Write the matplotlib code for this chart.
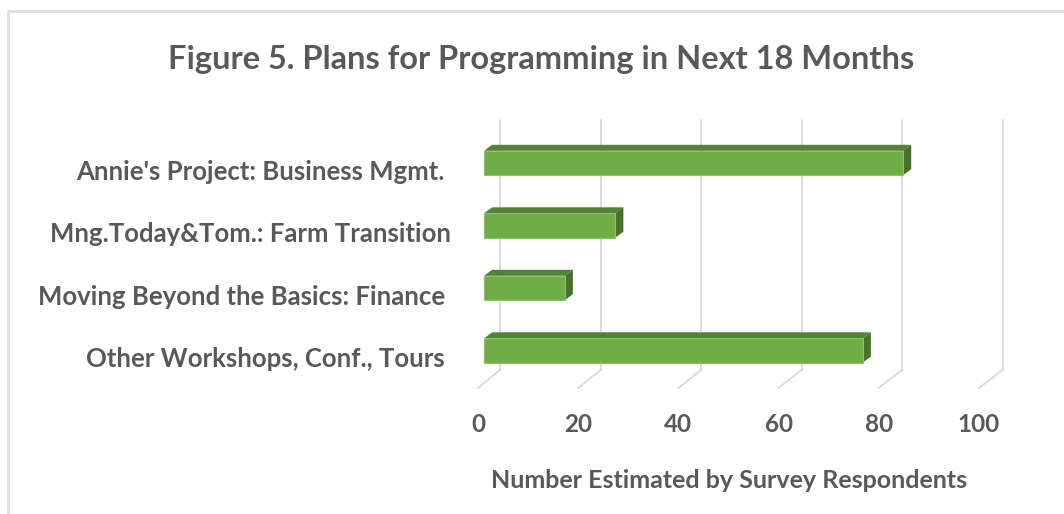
import matplotlib
matplotlib.use("Agg")
import matplotlib.pyplot as plt
from matplotlib.patches import Polygon, Rectangle
from matplotlib.lines import Line2D

categories = ["Annie's Project: Business Mgmt. ",
              "Mng.Today&Tom.: Farm Transition",
              "Moving Beyond the Basics: Finance ",
              "Other Workshops, Conf., Tours "]
values = [83, 26, 16, 75]
ticks = [0, 20, 40, 60, 80, 100]

title = "Figure 5. Plans for Programming in Next 18 Months"
xlabel = "Number Estimated by Survey Respondents"

plt.rcParams['font.family'] = ['Lato', 'DejaVu Sans']
txt = '#595959'
grid_c = '#d9d9d9'

W, H = 1064, 514
fig = plt.figure(figsize=(W / 100, H / 100), dpi=100)
# x: 0..100 over the bar front plane, y: category index (inverted)
ax = fig.add_axes([484 / W, 1 - 400 / H, 505 / W, 300 / H])
ax.set_xlim(0, 100)
ax.set_ylim(3.792, -1.008)
ax.axis('off')

# 3d-ish offsets in data units
dx, dy = 1.6, -0.096          # bar depth
wall_dx, wall_dy = 3.2, -0.29  # back wall vs bar front
floor_dx = -1.2                # front floor edge
y_top, y_floor = -0.69, 3.31
h = 0.195

for t in ticks:
    xb = t * 0.995 + wall_dx
    xf = t * 0.992 + floor_dx
    ax.plot([xb, xb], [y_top, y_floor], color=grid_c, lw=1.3, zorder=1, clip_on=False)
    ax.plot([xb, xf], [y_floor, y_floor - wall_dy], color=grid_c, lw=1.3, zorder=1, clip_on=False)
    ax.text(xf, 4.18, str(t), ha='center', va='center', fontsize=17.5,
            fontweight='bold', color=txt, clip_on=False)

for i, (cat, v) in enumerate(zip(categories, values)):
    y0, y1 = i - h, i + h
    top = Polygon([(0, y0), (v, y0), (v + dx, y0 + dy), (dx, y0 + dy)],
                  closed=True, fc='#538234', ec='none', zorder=3)
    side = Polygon([(v, y0), (v + dx, y0 + dy), (v + dx, y1 + dy), (v, y1)],
                   closed=True, fc='#46702c', ec='none', zorder=3)
    front = Rectangle((0, y0), v, y1 - y0, fc='#70ad47', ec='#8cc26a', lw=0.8, zorder=4)
    ax.add_patch(top)
    ax.add_patch(side)
    ax.add_patch(front)
    ax.text(-6.5, i + 0.14, cat, ha='right', va='center', fontsize=18.5,
            fontweight='bold', color=txt, clip_on=False)

fig.text(541 / W, 1 - 60 / H, title, ha='center', va='center', fontsize=23.5,
         fontweight='bold', color=txt)
fig.text(729 / W, 1 - 481 / H, xlabel, ha='center', va='center', fontsize=18,
         fontweight='bold', color=txt)

# chart border
fig.add_artist(Line2D([8 / W, 8 / W, 1], [0, 1 - 11 / H, 1 - 11 / H],
                      transform=fig.transFigure, color='#dedede', lw=2))

fig.savefig('out.png', dpi=100)
